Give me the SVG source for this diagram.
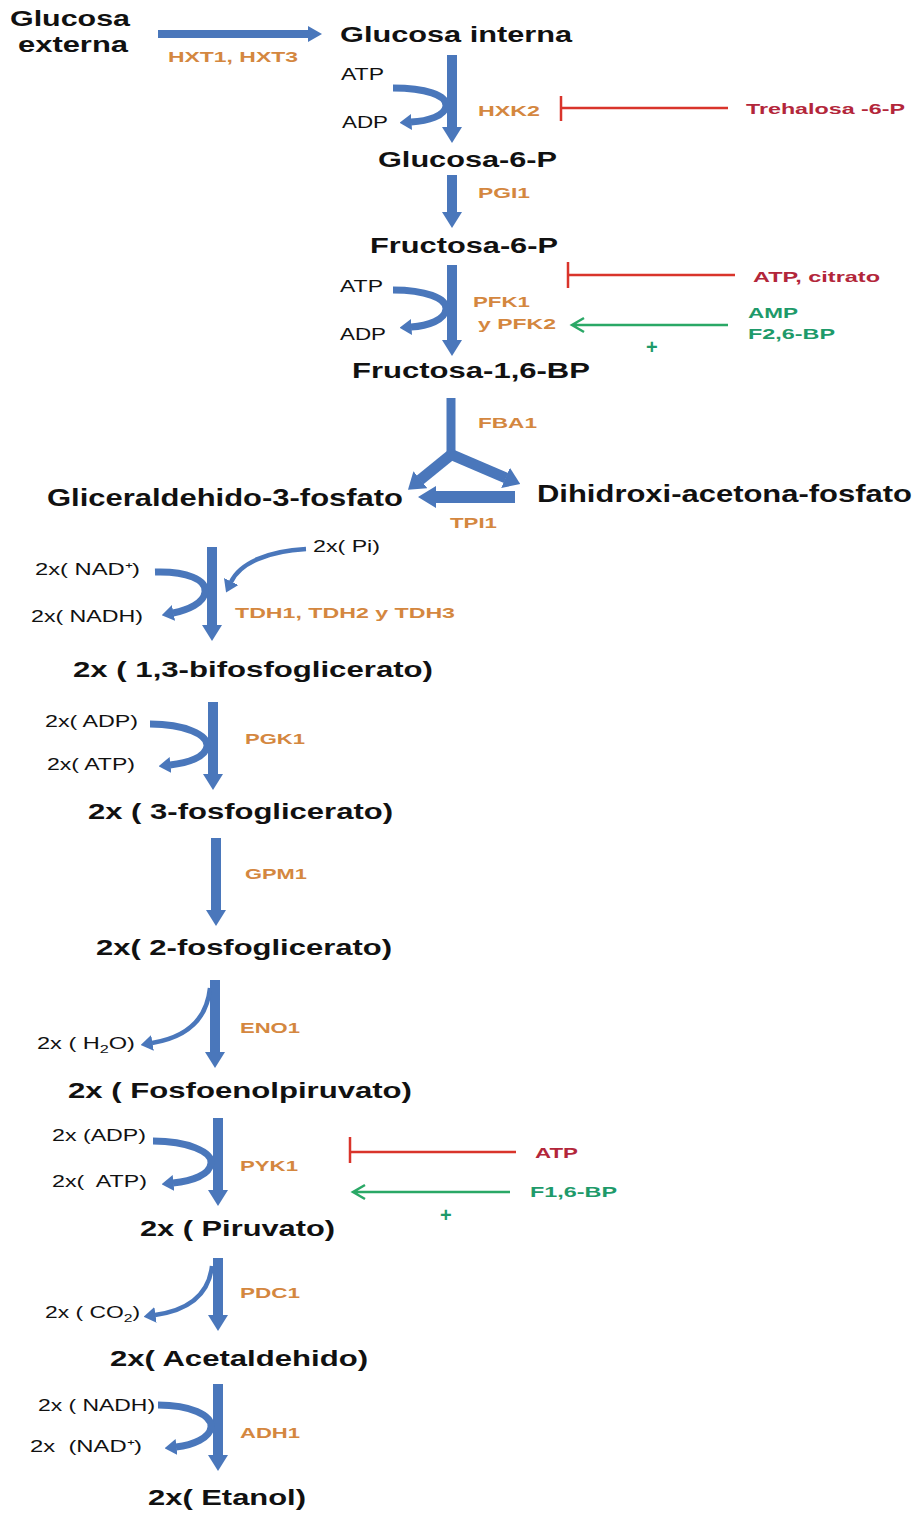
<svg xmlns="http://www.w3.org/2000/svg" width="917" height="1515" viewBox="0 0 917 1515">
<style>
.m{font-family:"Liberation Sans",Arial,sans-serif;font-weight:bold;font-size:22px;fill:#111}
.s{font-family:"Liberation Sans",Arial,sans-serif;font-size:16px;fill:#111;white-space:pre}
.e{font-family:"Liberation Sans",Arial,sans-serif;font-weight:bold;font-size:15px;fill:#d4873f}
.r{font-family:"Liberation Sans",Arial,sans-serif;font-weight:bold;font-size:15px;fill:#b3263a}
.g{font-family:"Liberation Sans",Arial,sans-serif;font-weight:bold;font-size:15px;fill:#1e9a6a}
.p{font-family:"Liberation Sans",Arial,sans-serif;font-weight:bold;font-size:20px;fill:#1e9a6a}
.blk{fill:#4a77bb}
.cv{fill:none;stroke:#4a77bb;stroke-width:7}
.cvt{fill:none;stroke:#4a77bb;stroke-width:4.5}
.inh{stroke:#d9342b;stroke-width:2.5;fill:none}
.act{stroke:#2aa866;stroke-width:2.5;fill:none}
.br{fill:none;stroke:#4a77bb;stroke-width:11}
</style>
<defs>
<marker id="hs" viewBox="0 0 12 16" refX="0.5" refY="8" markerWidth="12" markerHeight="16" markerUnits="userSpaceOnUse" orient="auto"><path d="M0,0 L12,8 L0,16 z" fill="#4a77bb"/></marker>
<marker id="hb" viewBox="0 0 16 22" refX="0.5" refY="11" markerWidth="16" markerHeight="22" markerUnits="userSpaceOnUse" orient="auto"><path d="M0,0 L16,11 L0,22 z" fill="#4a77bb"/></marker>
</defs>
<rect width="917" height="1515" fill="#fff"/>

<g id="connectors">
  <polygon class="blk" points="158,30 308,30 308,26 322,34 308,42 308,38 158,38"/>
  <polygon class="blk" points="447,55 457,55 457,127 462,127 452,143 442,127 447,127"/>
  <polygon class="blk" points="447,175 457,175 457,212 462,212 452,228 442,212 447,212"/>
  <polygon class="blk" points="447,265 457,265 457,340 462,340 452,356 442,340 447,340"/>
  <path class="br" style="stroke-width:9" d="M451,398 L451,457"/>
  <path class="br" d="M452,454 L420,480" marker-end="url(#hb)"/>
  <path class="br" d="M450,454 L506,478" marker-end="url(#hb)"/>
  <polygon class="blk" points="515,491 436,491 436,486 418,497 436,508 436,503 515,503"/>
  <polygon class="blk" points="207,547 217,547 217,625 222,625 212,641 202,625 207,625"/>
  <polygon class="blk" points="208,702 218,702 218,774 223,774 213,790 203,774 208,774"/>
  <polygon class="blk" points="211,838 221,838 221,910 226,910 216,926 206,910 211,910"/>
  <polygon class="blk" points="210,980 220,980 220,1052 225,1052 215,1068 205,1052 210,1052"/>
  <polygon class="blk" points="213,1118 223,1118 223,1190 228,1190 218,1206 208,1190 213,1190"/>
  <polygon class="blk" points="213,1258 223,1258 223,1315 228,1315 218,1331 208,1315 213,1315"/>
  <polygon class="blk" points="213,1384 223,1384 223,1455 228,1455 218,1471 208,1455 213,1455"/>

  <path class="cv" d="M393,88 C425,88 447,95 446,106 C445,116 428,121 411,122" marker-end="url(#hs)"/>
  <path class="cv" d="M393,290 C425,290 447,298 446,309 C445,320 428,326 411,327" marker-end="url(#hs)"/>
  <path class="cv" d="M155,572 C187,571 207,580 205,592 C204,603 188,610 173,613" marker-end="url(#hs)"/>
  <path class="cvt" d="M306,549 C268,551 240,563 231,582" marker-end="url(#hs)"/>
  <path class="cv" d="M150,724 C185,724 208,735 207,746 C206,757 188,763 170,765" marker-end="url(#hs)"/>
  <path class="cvt" d="M210,988 C207,1018 188,1037 152,1043" marker-end="url(#hs)"/>
  <path class="cv" d="M153,1141 C188,1141 212,1152 211,1163 C210,1175 192,1181 173,1183" marker-end="url(#hs)"/>
  <path class="cvt" d="M212,1266 C209,1293 190,1310 155,1315" marker-end="url(#hs)"/>
  <path class="cv" d="M158,1405 C190,1405 212,1415 211,1427 C210,1438 193,1445 176,1447" marker-end="url(#hs)"/>

  <path class="inh" d="M561,96 L561,121 M561,108 L728,108"/>
  <path class="inh" d="M568,262 L568,288 M568,275 L735,275"/>
  <path class="inh" d="M350,1137 L350,1163 M350,1152 L516,1152"/>
  <path class="act" d="M728,325 L572,325 M584,318 L572,325 L584,332"/>
  <path class="act" d="M510,1192 L353,1192 M365,1185 L353,1192 L365,1199"/>
</g>

<g id="n-glucosa-externa"><text class="m" x="10" y="26" textLength="120" lengthAdjust="spacingAndGlyphs">Glucosa</text><text class="m" x="18" y="52" textLength="110" lengthAdjust="spacingAndGlyphs">externa</text></g>
<g id="n-glucosa-interna"><text class="m" x="340" y="42" textLength="232" lengthAdjust="spacingAndGlyphs">Glucosa interna</text></g>
<g id="n-g6p"><text class="m" x="378" y="167" textLength="179" lengthAdjust="spacingAndGlyphs">Glucosa-6-P</text></g>
<g id="n-f6p"><text class="m" x="370" y="253" textLength="188" lengthAdjust="spacingAndGlyphs">Fructosa-6-P</text></g>
<g id="n-f16bp"><text class="m" x="352" y="378" textLength="238" lengthAdjust="spacingAndGlyphs">Fructosa-1,6-BP</text></g>
<g id="n-g3p"><text class="m" style="font-size:23px" x="47" y="506" textLength="356" lengthAdjust="spacingAndGlyphs">Gliceraldehido-3-fosfato</text></g>
<g id="n-dhap"><text class="m" style="font-size:23px" x="537" y="502" textLength="375" lengthAdjust="spacingAndGlyphs">Dihidroxi-acetona-fosfato</text></g>
<g id="n-13bpg"><text class="m" x="73" y="677" textLength="360" lengthAdjust="spacingAndGlyphs">2x ( 1,3-bifosfoglicerato)</text></g>
<g id="n-3pg"><text class="m" x="88" y="819" textLength="305" lengthAdjust="spacingAndGlyphs">2x ( 3-fosfoglicerato)</text></g>
<g id="n-2pg"><text class="m" x="96" y="955" textLength="296" lengthAdjust="spacingAndGlyphs">2x( 2-fosfoglicerato)</text></g>
<g id="n-pep"><text class="m" x="68" y="1098" textLength="344" lengthAdjust="spacingAndGlyphs">2x ( Fosfoenolpiruvato)</text></g>
<g id="n-piruvato"><text class="m" x="140" y="1236" textLength="195" lengthAdjust="spacingAndGlyphs">2x ( Piruvato)</text></g>
<g id="n-acetaldehido"><text class="m" x="110" y="1366" textLength="258" lengthAdjust="spacingAndGlyphs">2x( Acetaldehido)</text></g>
<g id="n-etanol"><text class="m" x="148" y="1505" textLength="158" lengthAdjust="spacingAndGlyphs">2x( Etanol)</text></g>

<g id="cofactors">
  <text class="s" x="341" y="80" textLength="43" lengthAdjust="spacingAndGlyphs">ATP</text>
  <text class="s" x="342" y="128" textLength="46" lengthAdjust="spacingAndGlyphs">ADP</text>
  <text class="s" x="340" y="292" textLength="43" lengthAdjust="spacingAndGlyphs">ATP</text>
  <text class="s" x="340" y="340" textLength="46" lengthAdjust="spacingAndGlyphs">ADP</text>
  <text class="s" x="313" y="552" textLength="67" lengthAdjust="spacingAndGlyphs">2x( Pi)</text>
  <text class="s" x="35" y="575" textLength="105" lengthAdjust="spacingAndGlyphs">2x( NAD⁺)</text>
  <text class="s" x="31" y="622" textLength="112" lengthAdjust="spacingAndGlyphs">2x( NADH)</text>
  <text class="s" x="45" y="727" textLength="93" lengthAdjust="spacingAndGlyphs">2x( ADP)</text>
  <text class="s" x="47" y="770" textLength="88" lengthAdjust="spacingAndGlyphs">2x( ATP)</text>
  <text class="s" x="37" y="1049" textLength="98" lengthAdjust="spacingAndGlyphs">2x ( H<tspan style="font-size:11px" dy="4">2</tspan><tspan dy="-4">O)</tspan></text>
  <text class="s" x="52" y="1141" textLength="94" lengthAdjust="spacingAndGlyphs">2x (ADP)</text>
  <text class="s" x="52" y="1187" textLength="95" lengthAdjust="spacingAndGlyphs">2x(  ATP)</text>
  <text class="s" x="45" y="1318" textLength="95" lengthAdjust="spacingAndGlyphs">2x ( CO<tspan style="font-size:11px" dy="4">2</tspan><tspan dy="-4">)</tspan></text>
  <text class="s" x="38" y="1411" textLength="117" lengthAdjust="spacingAndGlyphs">2x ( NADH)</text>
  <text class="s" x="30" y="1452" textLength="112" lengthAdjust="spacingAndGlyphs">2x  (NAD⁺)</text>
</g>

<g id="enzymes">
  <text class="e" x="168" y="62" textLength="130" lengthAdjust="spacingAndGlyphs">HXT1, HXT3</text>
  <text class="e" x="478" y="116" textLength="62" lengthAdjust="spacingAndGlyphs">HXK2</text>
  <text class="e" x="478" y="198" textLength="52" lengthAdjust="spacingAndGlyphs">PGI1</text>
  <text class="e" x="473" y="307" textLength="57" lengthAdjust="spacingAndGlyphs">PFK1</text>
  <text class="e" x="478" y="329" textLength="78" lengthAdjust="spacingAndGlyphs">y PFK2</text>
  <text class="e" x="478" y="428" textLength="59" lengthAdjust="spacingAndGlyphs">FBA1</text>
  <text class="e" x="450" y="528" textLength="47" lengthAdjust="spacingAndGlyphs">TPI1</text>
  <text class="e" x="235" y="618" textLength="220" lengthAdjust="spacingAndGlyphs">TDH1, TDH2 y TDH3</text>
  <text class="e" x="245" y="744" textLength="60" lengthAdjust="spacingAndGlyphs">PGK1</text>
  <text class="e" x="245" y="879" textLength="62" lengthAdjust="spacingAndGlyphs">GPM1</text>
  <text class="e" x="240" y="1033" textLength="60" lengthAdjust="spacingAndGlyphs">ENO1</text>
  <text class="e" x="240" y="1171" textLength="58" lengthAdjust="spacingAndGlyphs">PYK1</text>
  <text class="e" x="240" y="1298" textLength="60" lengthAdjust="spacingAndGlyphs">PDC1</text>
  <text class="e" x="240" y="1438" textLength="60" lengthAdjust="spacingAndGlyphs">ADH1</text>
</g>

<g id="regulators">
  <text class="r" x="746" y="114" textLength="159" lengthAdjust="spacingAndGlyphs">Trehalosa -6-P</text>
  <text class="r" x="753" y="282" textLength="127" lengthAdjust="spacingAndGlyphs">ATP, citrato</text>
  <text class="g" x="748" y="318" textLength="50" lengthAdjust="spacingAndGlyphs">AMP</text>
  <text class="g" x="748" y="339" textLength="87" lengthAdjust="spacingAndGlyphs">F2,6-BP</text>
  <text class="p" x="646" y="354">+</text>
  <text class="r" x="535" y="1158" textLength="43" lengthAdjust="spacingAndGlyphs">ATP</text>
  <text class="g" x="530" y="1197" textLength="87" lengthAdjust="spacingAndGlyphs">F1,6-BP</text>
  <text class="p" x="440" y="1222">+</text>
</g>
</svg>
